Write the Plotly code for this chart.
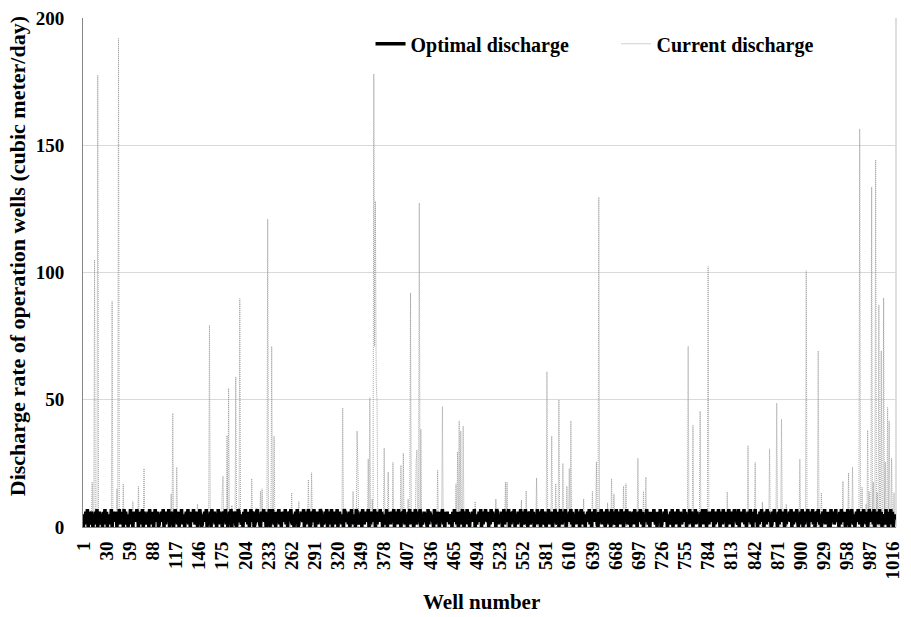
import plotly.graph_objects as go

# Optimal discharge of each operation well (cubic meter/day), one digit per well,
# wells numbered from 1 in reading order.
optimal_rows = [
    "051627041562052617046315062716042517063526041725160726140537",
    "160526374051627064152607351604725601536270416527036150472615",
    "062715304627150632741560627301546270513607426150372614056271",
    "503617042651037624150637251604726501367241065372601547062731",
    "604257160536271405637215046270153642705163740156273046152760",
    "413627051647026351704625130764251603725140763152607415362704",
    "162537041652736051427063516247053617240563712506471526037415",
    "627051364520716534207156340625714063625154062735160426175036",
    "271604536270514362705163742605173625407615326047152637041562",
    "703516427056137240561372604517263057416205371624063751260473",
    "156270453627160451726305716240536271406527351064271563047261",
    "507361247052617340562713650426173504627516035274160635274150",
    "642701536274053162704615273064152736045172640537162450637152",
    "704615362705164273056172460357162405736217054632715036247150",
    "637240516372504617362501647253061745263071543627051642730516",
    "370516247053627140562731504627153604072561372540617352604175",
    "06273150462751630472516037462517046351726045317260527160435",
]
optimal = [int(c) for c in "".join(optimal_rows)]
wells = list(range(1, len(optimal) + 1))

# Current discharge: wells with a noticeable pumping rate and their rates
spike_wells = [
    12, 15, 19, 37, 43, 45, 51, 63, 70, 77, 111, 113, 118, 144, 159,
    175, 176, 181, 183, 187, 192, 197, 212, 223, 225, 232, 237, 240, 262, 271,
    283, 287, 326, 339, 344, 345, 358, 360, 363, 365, 366, 367, 368, 369, 378,
    383, 389, 399, 402, 408, 411, 418, 419, 422, 424, 445, 451, 468, 470, 472,
    474, 477, 492, 518, 530, 532, 550, 556, 569, 582, 588, 593, 597, 602, 607,
    610, 612, 628, 639, 644, 647, 658, 663, 666, 678, 681, 696, 703, 706, 759,
    765, 774, 784, 808, 834, 843, 852, 861, 870, 876, 882, 899, 907, 922, 926,
    953, 960, 965, 974, 977, 982, 984, 986, 989, 991, 994, 996, 998, 1001, 1004,
    1006, 1009, 1011, 1014, 1017,
]
spike_values = [
    17.6, 105.0, 177.5, 88.7, 15.0, 192.0, 17.0, 10.0, 16.0, 23.0, 13.0, 44.7, 23.5, 9.0, 79.3,
    14.2, 20.0, 36.0, 54.5, 8.5, 59.0, 89.7, 19.0, 14.0, 15.0, 121.0, 71.0, 35.7, 13.5, 10.0,
    18.6, 21.3, 46.8, 14.0, 37.7, 24.0, 26.7, 50.8, 11.0, 178.0, 71.0, 128.0, 57.0, 50.0, 31.0,
    21.6, 25.4, 24.3, 29.0, 11.0, 92.0, 25.6, 30.3, 127.3, 38.4, 22.3, 47.3, 17.0, 29.6, 41.7,
    37.7, 39.7, 10.0, 11.0, 17.6, 17.6, 10.6, 14.2, 19.2, 61.0, 35.7, 17.0, 50.0, 25.0, 16.0,
    23.0, 41.7, 11.0, 14.0, 25.6, 129.6, 9.5, 19.0, 13.0, 16.0, 17.0, 27.0, 14.0, 19.6, 71.0,
    40.0, 45.5, 102.3, 13.8, 32.0, 25.4, 9.8, 30.7, 48.7, 42.4, 8.9, 26.7, 100.7, 69.2, 13.5,
    18.0, 21.3, 23.6, 156.4, 15.6, 9.0, 38.0, 14.0, 133.6, 17.6, 144.3, 13.5, 87.3, 69.2, 90.0,
    25.6, 47.0, 41.7, 27.0, 13.5,
]
current = [0.0] * len(wells)
for w, v in zip(spike_wells, spike_values):
    current[w - 1] = v

x_tick_labels = [1, 30, 59, 88, 117, 146, 175, 204, 233, 262, 291, 320, 349, 378,
                 407, 436, 465, 494, 523, 552, 581, 610, 639, 668, 697, 726, 755,
                 784, 813, 842, 871, 900, 929, 958, 987, 1016]
y_tick_labels = [0, 50, 100, 150, 200]

SERIF = "Liberation Serif, Times New Roman, serif"
W, H = 911, 617
ML, MR, MT, MB = 83, 8, 13, 90
plot_w = W - ML - MR
plot_h = H - MT - MB

fig = go.Figure()

fig.add_trace(go.Scatter(
    x=wells, y=current, mode="lines", name="Current discharge",
    line=dict(color="#a3a3a3", width=1, dash="1px,1px", simplify=False),
    legendrank=2, hoverinfo="skip",
))
fig.add_trace(go.Scatter(
    x=wells, y=optimal, mode="lines", name="Optimal discharge",
    line=dict(color="#000000", width=3.5, simplify=False),
    legendrank=1, hoverinfo="skip",
))

fig.update_layout(
    width=W, height=H,
    margin=dict(l=ML, r=MR, t=MT, b=MB),
    paper_bgcolor="white", plot_bgcolor="white",
    font=dict(family=SERIF, size=20, color="black", weight="bold"),
    showlegend=True,
    legend=dict(
        orientation="h", x=(373 - ML) / plot_w, xanchor="left",
        y=(H - MB - 39) / plot_h, yanchor="middle",
        font=dict(family=SERIF, size=20, color="black", weight="bold"),
        bgcolor="rgba(0,0,0,0)", entrywidth=201, entrywidthmode="pixels",
        traceorder="normal",
    ),
    xaxis=dict(
        range=[0.5, len(wells) + 0.5],
        tickmode="array", tickvals=x_tick_labels,
        ticktext=[str(v) for v in x_tick_labels],
        tickangle=-90, ticks="", ticklabelstandoff=6,
        tickfont=dict(family=SERIF, size=19, color="black", weight="bold"),
        showgrid=False, zeroline=False,
        showline=True, linecolor="#868686", linewidth=1,
    ),
    yaxis=dict(
        range=[0, 200],
        tickmode="array", tickvals=y_tick_labels,
        ticks="", ticklabelstandoff=14,
        tickfont=dict(family=SERIF, size=19, color="black", weight="bold"),
        showgrid=True, gridcolor="#d9d9d9", gridwidth=1,
        zeroline=False,
        showline=True, linecolor="#868686", linewidth=1,
    ),
    shapes=[dict(type="line", xref="paper", yref="paper", x0=1, x1=1, y0=0, y1=1,
                 line=dict(color="#bdbdbd", width=1), layer="below")],
    annotations=[
        dict(text="Discharge rate of operation wells (cubic meter/day)",
             xref="paper", yref="paper", x=(17 - ML) / plot_w,
             y=(H - MB - 254) / plot_h, xanchor="center", yanchor="middle",
             textangle=-90, showarrow=False,
             font=dict(family=SERIF, size=22, color="black", weight="bold")),
        dict(text="Well number",
             xref="paper", yref="paper", x=(485 - ML) / plot_w,
             y=(H - MB - 603) / plot_h, xanchor="center", yanchor="middle",
             showarrow=False,
             font=dict(family=SERIF, size=21, color="black", weight="bold")),
    ],
)

fig.write_html("out.html")
